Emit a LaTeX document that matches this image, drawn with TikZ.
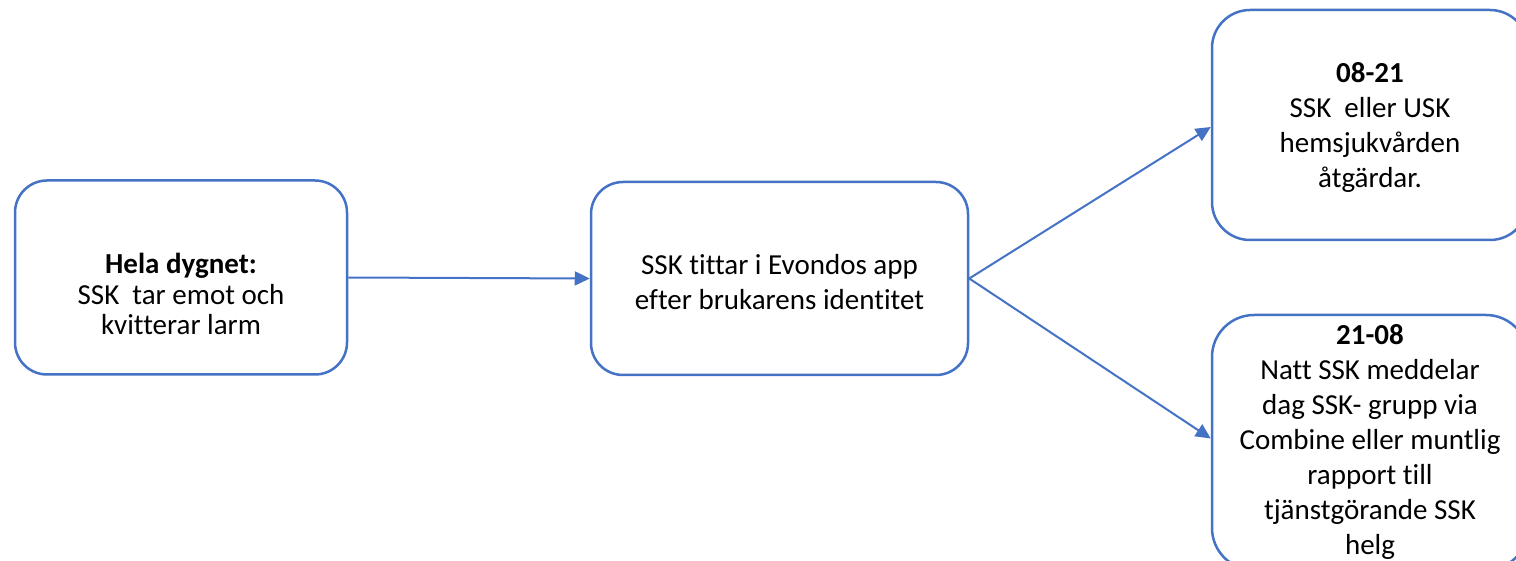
\documentclass[tikz,border=0pt]{standalone}
\usepackage{fontspec}
\setmainfont[Ligatures=NoCommon]{Carlito}
\usetikzlibrary{arrows.meta}
\definecolor{office}{HTML}{4472C4}
\tikzset{
  box/.style={draw=office, line width=2.5pt, fill=white, inner sep=0pt},
  txt/.style={align=center, inner sep=0pt, font=\fontsize{29}{35}\selectfont},
  conn/.style={draw=office, line width=2pt, -{Triangle[length=15pt,width=14pt]}}
}
\begin{document}
\begin{tikzpicture}[x=1pt,y=1pt]
\useasboundingbox (0,0) rectangle (1516,-561);
\clip (0,0) rectangle (1516,-561);
\node[box, rounded corners=32pt, minimum width=332pt, minimum height=194pt] (b1) at (181,-277.5) {};
\node[box, rounded corners=32pt, minimum width=377pt, minimum height=193pt] (b2) at (779.5,-278.5) {};
\node[box, rounded corners=38pt, minimum width=316pt, minimum height=230pt] (b3) at (1370,-125) {};
\node[box, rounded corners=42pt, minimum width=316pt, minimum height=255pt] (b4) at (1370,-442.5) {};
\node[txt, font=\fontsize{29}{30.5}\selectfont] (t1) at (181,-294)
  {\textbf{Hela dygnet:}\\SSK\ \ tar emot och\\kvitterar larm};
\node[txt] (t2) at (779.5,-282) {SSK tittar i Evondos app\\efter brukarens identitet};
\node[txt] (t3) at (1370,-127) {\textbf{08-21}\\SSK\ \ eller USK\\hemsjukvården\\åtgärdar.};
\node[txt] (t4) at (1370,-442) {\textbf{21-08}\\Natt SSK meddelar\\dag SSK- grupp via\\Combine eller muntlig\\rapport till\\tjänstgörande SSK\\helg};
\draw[conn] (b1.east) -- (b2.west);
\draw[conn] (b2.east) -- ([yshift=-2pt]b3.west);
\draw[conn] (b2.east) -- ([yshift=4pt]b4.west);
\end{tikzpicture}
\end{document}
